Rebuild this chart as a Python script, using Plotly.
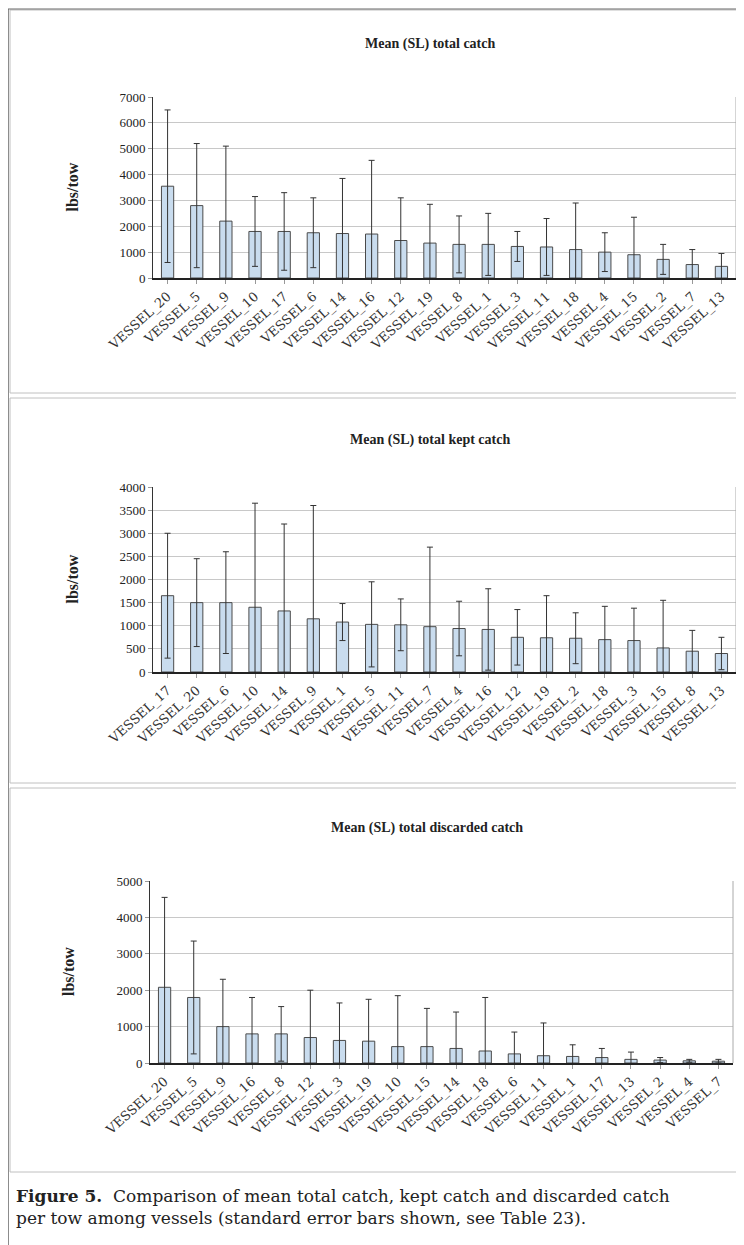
import plotly.graph_objects as go

# ---------------- data ----------------
total_vessels = ["VESSEL_20", "VESSEL_5", "VESSEL_9", "VESSEL_10", "VESSEL_17", "VESSEL_6",
                 "VESSEL_14", "VESSEL_16", "VESSEL_12", "VESSEL_19", "VESSEL_8", "VESSEL_1",
                 "VESSEL_3", "VESSEL_11", "VESSEL_18", "VESSEL_4", "VESSEL_15", "VESSEL_2",
                 "VESSEL_7", "VESSEL_13"]
total_mean = [3550, 2800, 2200, 1800, 1800, 1750, 1720, 1700, 1450, 1350,
              1300, 1300, 1220, 1200, 1100, 1000, 900, 720, 520, 450]
total_se = [2950, 2400, 2900, 1350, 1500, 1350, 2130, 2850, 1650, 1500,
            1100, 1200, 580, 1100, 1800, 750, 1450, 580, 580, 500]

kept_vessels = ["VESSEL_17", "VESSEL_20", "VESSEL_6", "VESSEL_10", "VESSEL_14", "VESSEL_9",
                "VESSEL_1", "VESSEL_5", "VESSEL_11", "VESSEL_7", "VESSEL_4", "VESSEL_16",
                "VESSEL_12", "VESSEL_19", "VESSEL_2", "VESSEL_18", "VESSEL_3", "VESSEL_15",
                "VESSEL_8", "VESSEL_13"]
kept_mean = [1650, 1500, 1500, 1400, 1320, 1150, 1080, 1030, 1020, 980,
             940, 920, 750, 740, 730, 700, 680, 520, 450, 400]
kept_se = [1350, 950, 1100, 2250, 1880, 2450, 400, 920, 560, 1720,
           590, 880, 600, 910, 550, 720, 700, 1030, 450, 350]

disc_vessels = ["VESSEL_20", "VESSEL_5", "VESSEL_9", "VESSEL_16", "VESSEL_8", "VESSEL_12",
                "VESSEL_3", "VESSEL_19", "VESSEL_10", "VESSEL_15", "VESSEL_14", "VESSEL_18",
                "VESSEL_6", "VESSEL_11", "VESSEL_1", "VESSEL_17", "VESSEL_13", "VESSEL_2",
                "VESSEL_4", "VESSEL_7"]
disc_mean = [2080, 1800, 1000, 800, 800, 700, 620, 600, 450, 450,
             400, 330, 250, 200, 180, 150, 100, 80, 60, 50]
disc_se = [2470, 1550, 1300, 1000, 750, 1300, 1030, 1150, 1400, 1050,
           1000, 1470, 600, 900, 320, 250, 200, 70, 40, 50]

titles = ["Mean (SL) total catch", "Mean (SL) total kept catch", "Mean (SL) total discarded catch"]
y_title = "lbs/tow"
y_ranges = [[0, 7000], [0, 4000], [0, 5000]]
y_dticks = [1000, 500, 1000]
caption_1 = "<b>Figure 5.</b>  Comparison of mean total catch, kept catch and discarded catch"
caption_2 = "per tow among vessels (standard error bars shown, see Table 23)."

# ---------------- layout geometry (page pixels) ----------------
PAGE_W, PAGE_H = 744, 1245
OFF = 8                      # default body margin of the page
W, H = PAGE_W - OFF, PAGE_H - OFF
FONT = "Liberation Serif"
WIDE = "DejaVu Serif"


def px(x):
    return (x - OFF) / W


def py(y):
    return 1 - (y - OFF) / H


panels = [
    dict(x0=153, x1=736, top=97, bottom=278, title_y=44, ytitle_x=72, box=(10, 10, 740, 393)),
    dict(x0=153, x1=736, top=487, bottom=672, title_y=440, ytitle_x=72, box=(10, 398, 740, 783)),
    dict(x0=150, x1=733, top=881, bottom=1063, title_y=828, ytitle_x=68, box=(10, 788, 740, 1172)),
]
series = [(total_vessels, total_mean, total_se),
          (kept_vessels, kept_mean, kept_se),
          (disc_vessels, disc_mean, disc_se)]

fig = go.Figure()
annotations = []
shapes = []

for i, (p, (cats, vals, errs)) in enumerate(zip(panels, series)):
    n = "" if i == 0 else str(i + 1)
    fig.add_trace(go.Bar(
        x=cats, y=vals,
        xaxis="x" + n, yaxis="y" + n,
        width=0.42,
        marker=dict(color="#c9dcee", line=dict(color="#4a4a4a", width=1)),
        error_y=dict(type="data", array=errs, symmetric=True,
                     color="#333333", thickness=1, width=3),
        showlegend=False,
    ))
    xd = [px(p["x0"]), px(p["x1"])]
    yd = [py(p["bottom"]), py(p["top"])]
    fig.update_layout(**{
        "xaxis" + n: dict(domain=xd, anchor="y" + n, type="category", automargin=False,
                          tickangle=-42, ticks="outside", ticklen=4, tickcolor="#999",
                          tickfont=dict(family=WIDE, size=13, color="#333"),
                          showline=True, linecolor="#222", linewidth=1.5, mirror=False,
                          showgrid=False),
        "yaxis" + n: dict(domain=yd, anchor="x" + n, range=y_ranges[i], dtick=y_dticks[i],
                          automargin=False,
                          ticks="outside", ticklen=4, tickcolor="#999",
                          tickfont=dict(family=FONT, size=13, color="#222"),
                          showline=True, linecolor="#333", linewidth=1,
                          showgrid=True, gridcolor="#c8c8c8", gridwidth=1,
                          zeroline=False),
    })
    # right edge of plot area
    shapes.append(dict(type="line", xref="paper", yref="paper",
                       x0=xd[1], x1=xd[1], y0=yd[0], y1=yd[1],
                       line=dict(color="#aaaaaa", width=1)))
    # panel box
    bx0, by0, bx1, by1 = p["box"]
    shapes.append(dict(type="rect", xref="paper", yref="paper",
                       x0=px(bx0), x1=px(bx1), y0=py(by1), y1=py(by0),
                       line=dict(color="#c0c0c0", width=1)))
    annotations.append(dict(text="<b>" + titles[i] + "</b>", xref="paper", yref="paper",
                            x=px((p["x0"] + p["x1"]) / 2 - 15), y=py(p["title_y"]),
                            showarrow=False, xanchor="center", yanchor="middle",
                            font=dict(family=FONT, size=14, color="#222")))
    annotations.append(dict(text="<b>" + y_title + "</b>", xref="paper", yref="paper",
                            x=px(p["ytitle_x"]), y=py((p["top"] + p["bottom"]) / 2),
                            showarrow=False, textangle=-90, xanchor="center", yanchor="middle",
                            font=dict(family=FONT, size=16, color="#222")))

# outer border line of page (left and top)
shapes.append(dict(type="line", xref="paper", yref="paper", x0=px(8), x1=px(8),
                   y0=0, y1=py(9), line=dict(color="#666666", width=1.5)))
shapes.append(dict(type="line", xref="paper", yref="paper", x0=px(8), x1=1,
                   y0=py(9), y1=py(9), line=dict(color="#666666", width=1)))

annotations.append(dict(text=caption_1, xref="paper", yref="paper", x=px(14), y=py(1196),
                        showarrow=False, xanchor="left", yanchor="middle",
                        font=dict(family=WIDE, size=17, color="#222")))
annotations.append(dict(text=caption_2, xref="paper", yref="paper", x=px(14), y=py(1218),
                        showarrow=False, xanchor="left", yanchor="middle",
                        font=dict(family=WIDE, size=17, color="#222")))

fig.update_layout(width=W, height=H,
                  margin=dict(l=0, r=0, t=0, b=0, pad=0, autoexpand=False),
                  paper_bgcolor="white", plot_bgcolor="white",
                  bargap=0.55, annotations=annotations, shapes=shapes)

fig.write_html("out.html")
